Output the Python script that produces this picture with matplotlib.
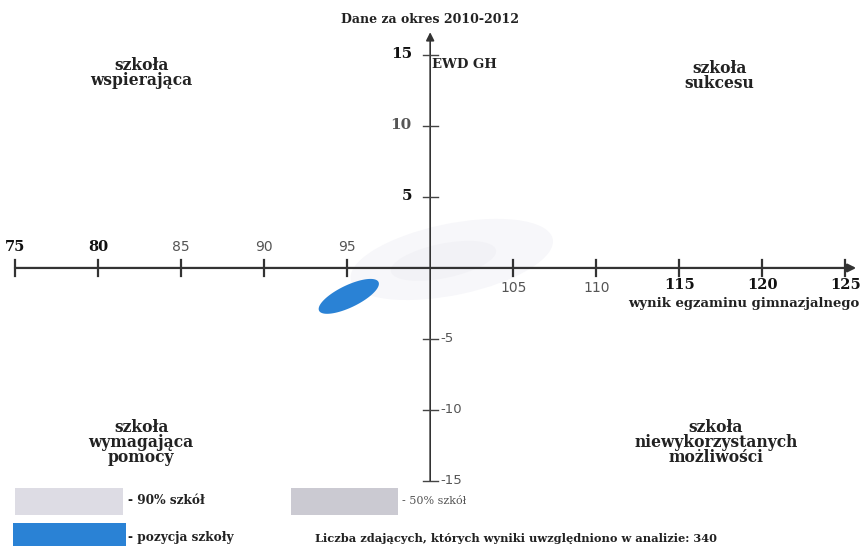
import numpy as np
import matplotlib
matplotlib.use("Agg")
import matplotlib.pyplot as plt
from matplotlib.patches import Ellipse, Polygon, Rectangle

plt.rcParams['font.family'] = ['DejaVu Serif']

# data
x_ticks = [75, 80, 85, 90, 95, 105, 110, 115, 120, 125]
y_ticks = [15, 10, 5, -5, -10, -15]
x_center = 100
y_center = 0

# school position (EWD ellipse): center and two half-axis vectors (data units)
school_center = (95.1, -2.0)
school_axis1 = (1.79, 1.01)
school_axis2 = (-0.29, 0.70)

# areas of schools (90% and 50%)
area90 = dict(center=(101.3, 0.6), width=12.5, height=5.0, angle=14)
area50 = dict(center=(100.8, 0.5), width=6.5, height=2.4, angle=14)

n_students = 340

fig = plt.figure(figsize=(8.62, 5.46), dpi=100)
ax = fig.add_axes([0, 0, 1, 1])
ax.set_xlim(74.1, 126.0)
ax.set_ylim(-19.58, 18.87)
ax.axis('off')

# school areas (very faint)
ax.add_patch(Ellipse(area90['center'], area90['width'], area90['height'],
                     angle=area90['angle'], color='#f7f7fa', lw=0, zorder=1))
ax.add_patch(Ellipse(area50['center'], area50['width'], area50['height'],
                     angle=area50['angle'], color='#f2f2f6', lw=0, zorder=1))

# axes with arrows
ax.annotate('', xy=(125.65, 0), xytext=(75, 0),
            arrowprops=dict(arrowstyle='-|>', color='#333333', lw=1.6,
                            mutation_scale=12, shrinkA=0, shrinkB=0), zorder=3)
ax.annotate('', xy=(x_center, 16.6), xytext=(x_center, -15),
            arrowprops=dict(arrowstyle='-|>', color='#333333', lw=1.2,
                            mutation_scale=12, shrinkA=0, shrinkB=0), zorder=3)

# ticks
for xt in x_ticks:
    ax.plot([xt, xt], [-0.55, 0.55], color='#333333', lw=1.6, zorder=3)
    dark = xt in (75, 80, 115, 120, 125)
    col = '#111111' if dark else '#555555'
    if dark:
        kw = dict(fontsize=10.5, color=col, fontweight='bold')
    else:
        kw = dict(fontsize=10, color=col, family=['DejaVu Sans'])
    if xt < x_center:
        ax.text(xt, 1.0, str(xt), ha='center', va='bottom', **kw)
    else:
        yy = -0.7 if xt >= 115 else -0.9
        ax.text(xt, yy, str(xt), ha='center', va='top', **kw)

for yt in y_ticks:
    ax.plot([x_center - 0.45, x_center + 0.45], [yt, yt], color='#444444',
            lw=1.0, zorder=3)
    if yt > 0:
        ax.text(x_center - 1.1, yt + 0.1, str(yt), ha='right', va='center',
                fontsize=11, fontweight='bold',
                color='#111111' if yt != 10 else '#555555')
    else:
        ax.text(x_center + 0.6, yt, str(yt), ha='left', va='center',
                fontsize=9.5, color='#555555', family=['DejaVu Sans'])

# school position
t = np.linspace(0, 2 * np.pi, 200)
pts = np.column_stack([
    school_center[0] + np.cos(t) * school_axis1[0] + np.sin(t) * school_axis2[0],
    school_center[1] + np.cos(t) * school_axis1[1] + np.sin(t) * school_axis2[1],
])
ax.add_patch(Polygon(pts, closed=True, color='#2a82d5', lw=0, zorder=4))

# titles and labels
ax.text(x_center, 17.5, 'Dane za okres 2010-2012', ha='center', va='center',
        fontsize=9, fontweight='bold', color='#222222')
ax.text(x_center + 0.1, 14.3, 'EWD GH', ha='left', va='center',
        fontsize=9.5, fontweight='bold', color='#222222')
ax.text(125.85, -2.5, 'wynik egzaminu gimnazjalnego', ha='right', va='center',
        fontsize=9.5, fontweight='bold', color='#222222')

qkw = dict(ha='center', va='center', fontsize=11.2, fontweight='bold',
           color='#222222', linespacing=0.85)
ax.text(82.6, 13.7, 'szkoła\nwspierająca', **qkw)
ax.text(117.4, 13.5, 'szkoła\nsukcesu', **qkw)
ax.text(82.6, -12.3, 'szkoła\nwymagająca\npomocy', **qkw)
ax.text(117.2, -12.3, 'szkoła\nniewykorzystanych\nmożliwości', **qkw)

# legend at bottom (figure coords)
W, H = 862.0, 546.0
def frect(x0, y0, x1, y1, c):
    fig.patches.append(Rectangle((x0 / W, 1 - y1 / H), (x1 - x0) / W,
                                 (y1 - y0) / H, transform=fig.transFigure,
                                 color=c, lw=0))

frect(15, 488, 123, 515, '#dddce4')
frect(291, 488, 398, 515, '#cbcad2')
frect(13, 523, 126, 546, '#2a82d5')
lkw = dict(fontsize=8.7, fontweight='bold', color='#222222', va='center',
           transform=fig.transFigure)
fig.text(128 / W, 1 - 500 / H, '- 90% szkół', **lkw)
fig.text(402 / W, 1 - 501 / H, '- 50% szkół', fontsize=8, color='#555555',
         va='center', transform=fig.transFigure)
fig.text(128 / W, 1 - 538 / H, '- pozycja szkoły', **lkw)
fig.text(315 / W, 1 - 538 / H,
         'Liczba zdających, których wyniki uwzględniono w analizie: %d' % n_students,
         fontsize=8.2, fontweight='bold', color='#222222', va='center',
         transform=fig.transFigure)

fig.savefig('out.png', dpi=100)
